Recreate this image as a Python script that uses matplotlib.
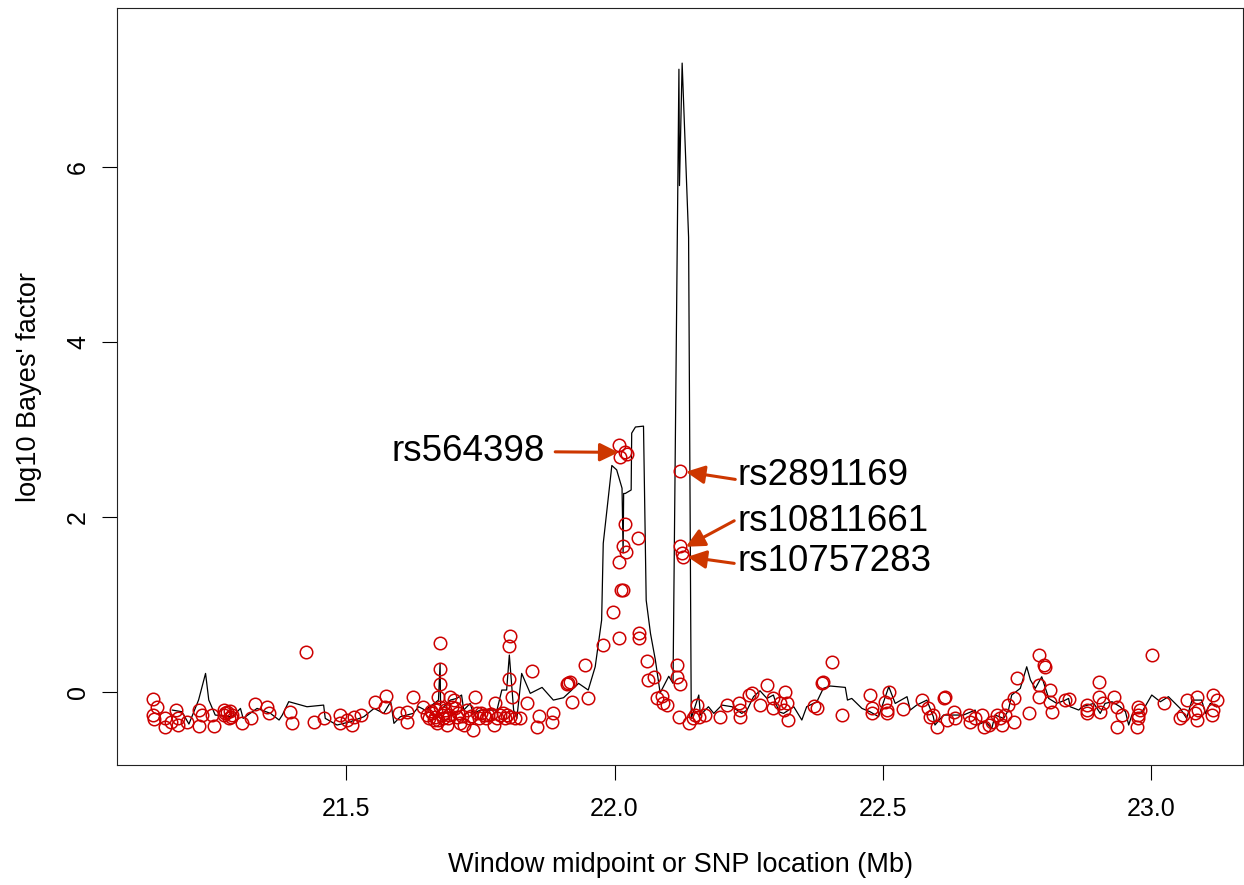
import matplotlib
matplotlib.use("Agg")
import matplotlib.pyplot as plt

plt.rcParams['font.family'] = ['Liberation Sans', 'DejaVu Sans']

# ---- window (line) series: midpoint (Mb) and log10 Bayes' factor ----
win_x = [21.176, 21.194, 21.207, 21.225, 21.238, 21.244, 21.256, 21.288, 21.303, 21.308,
         21.334, 21.359, 21.375, 21.381, 21.393, 21.427, 21.458, 21.461, 21.483, 21.508,
         21.533, 21.552, 21.570, 21.583, 21.589,
         21.601, 21.625, 21.635, 21.647, 21.660, 21.672, 21.675, 21.676, 21.694, 21.706,
         21.715, 21.719, 21.731, 21.737, 21.750, 21.781, 21.790, 21.799, 21.804, 21.812,
         21.818, 21.827, 21.843, 21.865, 21.886, 21.905, 21.917, 21.933, 21.951, 21.964,
         21.976,
         21.979, 21.995, 22.004, 22.014, 22.016, 22.017, 22.020, 22.031, 22.032, 22.039,
         22.054, 22.059, 22.067, 22.076, 22.085, 22.101, 22.109, 22.120, 22.121, 22.126,
         22.138, 22.143,
         22.157, 22.160, 22.175, 22.185, 22.200, 22.219, 22.237, 22.247, 22.259, 22.271,
         22.284, 22.296, 22.306, 22.315, 22.334, 22.349, 22.358, 22.377, 22.389, 22.402,
         22.430, 22.434, 22.442, 22.461, 22.476, 22.492, 22.495, 22.511, 22.523, 22.545,
         22.551, 22.563, 22.582, 22.594, 22.597, 22.613,
         22.626, 22.650, 22.672, 22.675, 22.691, 22.703, 22.709, 22.725, 22.734, 22.740,
         22.756, 22.768, 22.775, 22.784, 22.796, 22.809, 22.824, 22.840, 22.846, 22.849,
         22.865, 22.871, 22.893, 22.905, 22.914, 22.927, 22.942, 22.952, 22.958, 22.964,
         22.983, 23.001, 23.017, 23.032, 23.054, 23.066, 23.076, 23.094, 23.101, 23.110,
         23.122]
win_bf = [-0.206, -0.225, -0.366, -0.091, 0.213, -0.091, -0.263, -0.282, -0.187, -0.301,
          -0.187, -0.244, -0.320, -0.263, -0.110, -0.168, -0.149, -0.301, -0.377, -0.339,
          -0.282, -0.187, -0.244, -0.110, -0.358,
          -0.282, -0.244, -0.168, -0.206, -0.149, -0.092, 0.328, -0.206, -0.092, -0.073,
          -0.034, -0.206, -0.130, -0.244, -0.206, -0.206, 0.023, 0.023, 0.423, -0.206,
          -0.301, 0.213, -0.015, 0.053, -0.092, -0.065, 0.004, 0.099, 0.023, 0.289,
          0.823,
          1.70, 2.59, 2.54, 2.33, 1.59, 2.27, 2.27, 2.31, 2.96, 3.03,
          3.04, 1.05, 0.67, 0.37, -0.01, 0.18, 0.10, 7.12, 5.79, 7.19,
          5.20, -0.30,
          -0.034, -0.263, -0.168, -0.244, -0.149, -0.168, -0.244, -0.206, -0.053, 0.015,
          -0.073, -0.034, -0.225, -0.244, -0.168, -0.320, -0.168, -0.111, 0.042, 0.069,
          0.053, -0.092, -0.073, -0.187, -0.225, -0.282, -0.225, 0.061, -0.130, -0.053,
          -0.206, -0.149, -0.092, -0.282, -0.377, -0.263,
          -0.263, -0.263, -0.206, -0.377, -0.339, -0.415, -0.263, -0.301, -0.206, -0.034,
          0.042, 0.289, 0.137, 0.042, 0.175, -0.073, -0.130, -0.092, -0.073, -0.168,
          -0.206, -0.168, -0.130, -0.244, -0.130, -0.111, -0.168, -0.225, -0.377, -0.263,
          -0.225, -0.034, -0.111, -0.053, -0.187, -0.301, -0.092, -0.092, -0.244, -0.130,
          -0.168]

# ---- single SNP series: location (Mb) and log10 Bayes' factor ----
snp_x = [21.140, 21.147, 21.140, 21.142, 21.163, 21.163, 21.173, 21.182, 21.187, 21.187,
         21.204, 21.225, 21.225, 21.232, 21.253, 21.250, 21.272, 21.272, 21.278, 21.281,
         21.288, 21.275, 21.283, 21.285, 21.306, 21.322, 21.331, 21.353, 21.356, 21.396,
         21.399, 21.426, 21.440, 21.458, 21.489, 21.489, 21.502, 21.511, 21.514, 21.527,
         21.554, 21.575, 21.573, 21.598,
         21.613, 21.613, 21.625, 21.644, 21.650, 21.660, 21.663, 21.669, 21.675, 21.674,
         21.675, 21.672, 21.675, 21.678, 21.684, 21.687, 21.694, 21.697, 21.700, 21.703,
         21.712, 21.719, 21.725, 21.737, 21.740, 21.743, 21.756, 21.765, 21.775, 21.778,
         21.787, 21.799, 21.806, 21.806, 21.804, 21.804, 21.809, 21.815, 21.824, 21.837,
         21.846, 21.855, 21.860, 21.883, 21.885, 21.911, 21.914, 21.917, 21.920, 21.945,
         21.950,
         21.655, 21.658, 21.665, 21.668, 21.671, 21.680, 21.683, 21.690, 21.692, 21.706,
         21.709, 21.716, 21.728, 21.733, 21.747, 21.752, 21.760, 21.770, 21.781, 21.792,
         21.796,
         22.009, 22.011, 22.020, 22.023, 22.020, 22.015, 22.022, 22.009, 22.043, 22.012,
         22.016, 21.997, 22.009, 21.979, 22.045, 22.046, 22.060, 22.073, 22.063, 22.088,
         22.079, 22.091, 22.097, 22.121, 22.116, 22.116, 22.122, 22.122, 22.122, 22.125,
         22.127,
         22.138, 22.147, 22.150, 22.157, 22.153, 22.169, 22.197, 22.209, 22.231, 22.234,
         22.234, 22.250, 22.256, 22.271, 22.284, 22.296, 22.296, 22.309, 22.318, 22.321,
         22.315, 22.324, 22.371, 22.377, 22.386, 22.389, 22.405, 22.424, 22.476, 22.479,
         22.479, 22.504, 22.507, 22.507, 22.511, 22.538, 22.573, 22.585, 22.588, 22.594,
         22.601, 22.613, 22.616, 22.619,
         22.632, 22.635, 22.660, 22.663, 22.672, 22.685, 22.688, 22.697, 22.703, 22.713,
         22.719, 22.722, 22.728, 22.734, 22.744, 22.744, 22.750, 22.772, 22.790, 22.801,
         22.803, 22.790, 22.790, 22.812, 22.812, 22.815, 22.840, 22.846, 22.880, 22.880,
         22.880, 22.902, 22.902, 22.905, 22.911, 22.930, 22.936, 22.945, 22.936, 22.973,
         22.976, 22.980, 22.976, 22.976, 23.001, 23.023, 23.054, 23.060, 23.066, 23.085,
         23.082, 23.085, 23.088, 23.116, 23.113, 23.122, 23.116]
snp_bf = [-0.080, -0.175, -0.263, -0.309, -0.301, -0.396, -0.339, -0.206, -0.301, -0.377,
          -0.339, -0.206, -0.389, -0.263, -0.389, -0.263, -0.206, -0.263, -0.225, -0.301,
          -0.263, -0.240, -0.220, -0.280, -0.351, -0.301, -0.141, -0.168, -0.244, -0.225,
          -0.351, 0.453, -0.339, -0.301, -0.263, -0.358, -0.320, -0.377, -0.282, -0.263,
          -0.118, -0.042, -0.168, -0.244,
          -0.225, -0.339, -0.053, -0.168, -0.263, -0.244, -0.320, -0.358, 0.564, 0.259,
          0.088, -0.053, -0.168, -0.263, -0.206, -0.377, -0.053, -0.168, -0.092, -0.187,
          -0.358, -0.377, -0.206, -0.434, -0.053, -0.244, -0.263, -0.263, -0.377, -0.130,
          -0.263, -0.263, -0.282, 0.640, 0.526, 0.148, -0.053, -0.301, -0.301, -0.130,
          0.240, -0.396, -0.275, -0.339, -0.244, 0.090, 0.099, 0.118, -0.111, 0.308,
          -0.073,
          -0.300, -0.220, -0.280, -0.200, -0.320, -0.300, -0.240, -0.300, -0.260, -0.280,
          -0.240, -0.270, -0.300, -0.270, -0.300, -0.240, -0.300, -0.250, -0.300, -0.240,
          -0.300,
          2.823, 2.689, 2.747, 2.727, 1.920, 1.672, 1.604, 1.489, 1.756, 1.165,
          1.165, 0.918, 0.613, 0.537, 0.678, 0.613, 0.354, 0.175, 0.137, -0.046,
          -0.073, -0.130, -0.149, -0.282, 0.308, 0.175, 0.091, 2.525, 1.672, 1.592,
          1.546,
          -0.358, -0.301, -0.263, -0.282, -0.149, -0.263, -0.282, -0.149, -0.130, -0.206,
          -0.282, -0.034, -0.015, -0.149, 0.080, -0.073, -0.187, -0.130, 0.004, -0.130,
          -0.206, -0.320, -0.160, -0.187, 0.099, 0.118, 0.347, -0.263, -0.034, -0.187,
          -0.244, -0.111, -0.206, -0.244, 0.004, -0.198, -0.092, -0.187, -0.282, -0.263,
          -0.396, -0.073, -0.053, -0.320,
          -0.225, -0.301, -0.263, -0.339, -0.301, -0.263, -0.396, -0.377, -0.339, -0.263,
          -0.301, -0.377, -0.263, -0.149, -0.073, -0.339, 0.156, -0.236, 0.423, 0.308,
          0.289, 0.080, -0.053, 0.023, -0.111, -0.225, -0.092, -0.084, -0.149, -0.206,
          -0.244, 0.118, -0.053, -0.225, -0.130, -0.053, -0.168, -0.263, -0.396, -0.396,
          -0.168, -0.206, -0.263, -0.301, 0.423, -0.130, -0.301, -0.263, -0.092, -0.053,
          -0.244, -0.320, -0.206, -0.034, -0.263, -0.092, -0.206]

# ---- annotated SNPs ----
ann_labels = ["rs564398", "rs2891169", "rs10811661", "rs10757283"]
ann_tip_x = [22.0075, 22.133, 22.133, 22.136]
ann_tip_y = [2.74, 2.518, 1.661, 1.546]
ann_tail_x = [21.8895, 22.225, 22.223, 22.223]
ann_tail_y = [2.746, 2.431, 1.958, 1.471]
ann_text_x = [21.871, 22.229, 22.229, 22.229]
ann_text_y = [2.746, 2.47, 1.95, 1.49]
ann_ha = ["right", "left", "left", "left"]

x_ticks = [21.5, 22.0, 22.5, 23.0]
x_tick_labels = ["21.5", "22.0", "22.5", "23.0"]
y_ticks = [0, 2, 4, 6]
y_tick_labels = ["0", "2", "4", "6"]

fig = plt.figure(figsize=(12.44, 8.85), dpi=100)
ax = fig.add_axes([117 / 1244, 1 - 765 / 885, (1243 - 117) / 1244, (765 - 8) / 885])

ax.plot(win_x, win_bf, color="black", lw=0.9, zorder=2)
ax.plot(snp_x, snp_bf, linestyle="none", marker="o", markersize=9,
        markerfacecolor="none", markeredgecolor="#CD0000", markeredgewidth=1.1, zorder=3)

arrow_col = "#CD3700"
for lab, tx, ty, sx, sy, lx, ly, ha in zip(ann_labels, ann_tip_x, ann_tip_y,
                                           ann_tail_x, ann_tail_y, ann_text_x,
                                           ann_text_y, ann_ha):
    ax.annotate("", xy=(tx, ty), xytext=(sx, sy),
                arrowprops=dict(arrowstyle="-|>,head_length=0.45,head_width=0.22",
                                color=arrow_col, lw=2.2, shrinkA=0, shrinkB=0,
                                mutation_scale=25), zorder=4)
    ax.text(lx, ly, lab, ha=ha, va="center", fontsize=26.5, color="black", zorder=5)

ax.set_xlim(21.073, 23.171)
ax.set_ylim(-0.834, 7.82)
ax.set_xticks(x_ticks)
ax.set_xticklabels(x_tick_labels)
ax.set_yticks(y_ticks)
ax.set_yticklabels(y_tick_labels, rotation=90, va="center")
ax.tick_params(axis="both", direction="out", length=11, width=0.8, labelsize=18,
               colors="black")
ax.tick_params(axis="x", pad=12)
ax.tick_params(axis="y", pad=8.5)
for s in ax.spines.values():
    s.set_linewidth(0.8)
    s.set_color("#222222")

ax.set_xlabel("Window midpoint or SNP location (Mb)", fontsize=19.5, labelpad=22)
ax.set_ylabel("log10 Bayes' factor", fontsize=19.5, labelpad=17)

fig.savefig("out.png", dpi=100)
